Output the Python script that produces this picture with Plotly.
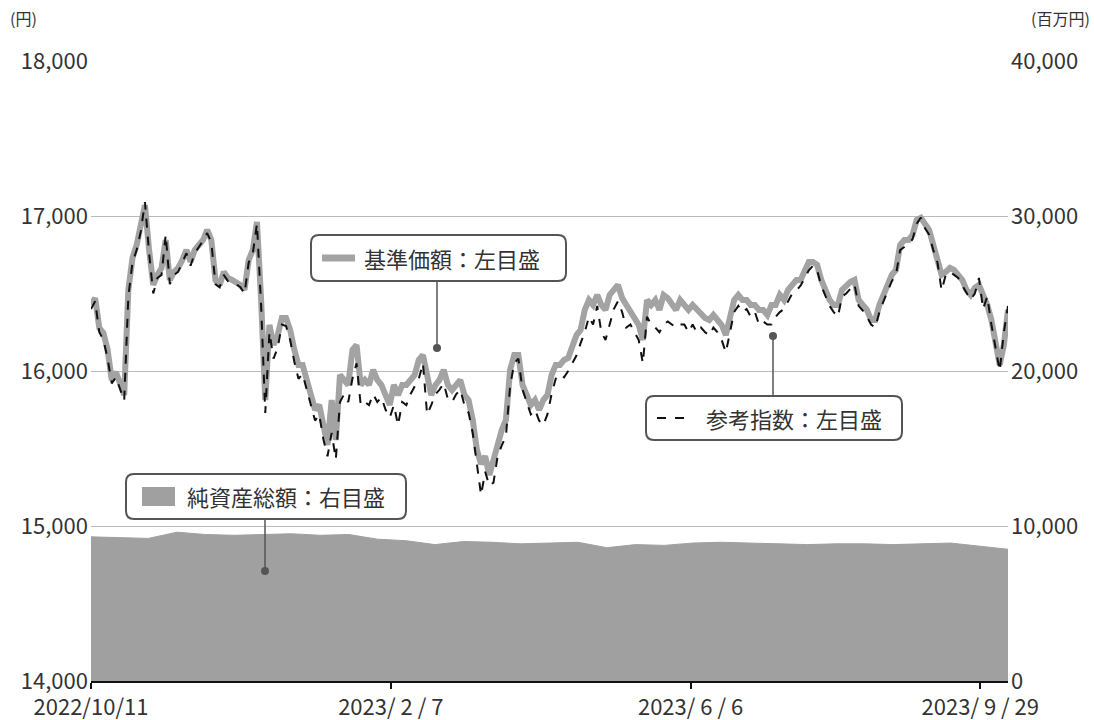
import pandas as pd
import plotly.graph_objects as go

nav = [16426, 16470, 16278, 16245, 16136, 15942, 15994, 15910, 15845, 16523, 16729, 16813, 16942, 17071, 16781,
       16555, 16620, 16665, 16845, 16587, 16639, 16665, 16716, 16781, 16704, 16781, 16813, 16845, 16910, 16845,
       16587, 16555, 16639, 16600, 16587, 16574, 16555, 16523, 16716, 16781, 16962, 16458, 15813, 16297, 16168,
       16232, 16342, 16342, 16265, 16136, 16039, 16039, 15942, 15845, 15749, 15781, 15652, 15523, 15813, 15555,
       15974, 15942, 15910, 16136, 16168, 15910, 15942, 15910, 16007, 15942, 15910, 15845, 15781, 15910, 15845,
       15910, 15910, 15942, 15974, 16071, 16103, 15974, 15845, 15910, 15942, 16007, 15910, 15877, 15910, 15942,
       15845, 15813, 15684, 15491, 15400, 15450, 15329, 15426, 15555, 15620, 15684, 16007, 16103, 16103, 15910,
       15845, 15781, 15813, 15749, 15813, 15845, 15974, 16039, 16039, 16071, 16084, 16168, 16232, 16265, 16394,
       16458, 16426, 16491, 16426, 16394, 16491, 16523, 16555, 16471, 16426, 16394, 16342, 16297, 16200, 16458,
       16426, 16458, 16394, 16491, 16471, 16426, 16394, 16458, 16426, 16394, 16426, 16394, 16361, 16342, 16329,
       16361, 16329, 16297, 16232, 16361, 16458, 16491, 16458, 16458, 16426, 16426, 16394, 16394, 16361, 16426,
       16426, 16491, 16458, 16523, 16555, 16587, 16587, 16652, 16704, 16704, 16685, 16587, 16523, 16458, 16426,
       16426, 16523, 16555, 16574, 16587, 16458, 16426, 16394, 16329, 16329, 16426, 16491, 16555, 16620, 16652,
       16813, 16845, 16845, 16878, 16975, 16988, 16942, 16910, 16813, 16729, 16620, 16639, 16665, 16652, 16620,
       16587, 16523, 16491, 16536, 16555, 16491, 16426, 16329, 16168, 16039, 16168, 16394]
idx = [16400, 16450, 16250, 16200, 16080, 15920, 15960, 15880, 15810, 16480, 16700, 16780, 16900, 17090, 16760,
       16500, 16600, 16620, 16880, 16560, 16620, 16640, 16700, 16760, 16680, 16760, 16800, 16840, 16890, 16830,
       16560, 16540, 16620, 16580, 16570, 16560, 16540, 16500, 16700, 16760, 16950, 16420, 15730, 16250, 16080,
       16150, 16300, 16290, 16200, 16060, 15950, 15980, 15880, 15780, 15680, 15720, 15560, 15450, 15600, 15430,
       15800, 15850, 15800, 15950, 16050, 15780, 15800, 15780, 15850, 15800, 15830, 15750, 15700, 15780, 15650,
       15800, 15780, 15850, 15900, 15950, 16050, 15720, 15780, 15850, 15880, 15920, 15820, 15800, 15850, 15880,
       15780, 15730, 15600, 15400, 15200, 15350, 15260, 15280, 15450, 15520, 15580, 15900, 16050, 16080, 15880,
       15800, 15720, 15750, 15680, 15650, 15720, 15850, 15950, 15980, 15960, 16000, 16050, 16100, 16180, 16250,
       16350, 16300, 16420, 16250, 16200, 16300, 16400, 16450, 16380, 16280, 16300, 16250, 16200, 16050, 16350,
       16300, 16280, 16250, 16300, 16320, 16300, 16280, 16300, 16300, 16250, 16300, 16250, 16280, 16250, 16230,
       16280, 16250, 16200, 16120, 16250, 16380, 16420, 16380, 16400, 16350, 16380, 16300, 16320, 16300, 16300,
       16350, 16380, 16400, 16450, 16500, 16520, 16550, 16600, 16650, 16680, 16650, 16550, 16480, 16420, 16380,
       16350, 16480, 16500, 16530, 16560, 16420, 16390, 16350, 16300, 16280, 16380, 16450, 16520, 16580, 16620,
       16780, 16800, 16820, 16850, 16950, 16990, 16920, 16880, 16780, 16700, 16520, 16620, 16640, 16620, 16600,
       16550, 16500, 16460, 16500, 16600, 16400, 16480, 16300, 16150, 16000, 16250, 16420]
assets = [9300, 9250, 9200, 9600, 9450, 9400, 9450, 9500, 9400, 9450, 9150, 9050, 8800, 9000, 8950, 8850,
          8900, 8950, 8600, 8800, 8750, 8900, 8950, 8900, 8850, 8800, 8850, 8850, 8800, 8850, 8900, 8700, 8500]

dates = pd.date_range("2022-10-11", "2023-10-10", periods=len(nav))
adates = pd.date_range("2022-10-11", "2023-10-10", periods=len(assets))
tickvals = ["2022-10-11", "2023-02-07", "2023-06-06", "2023-09-29"]
ticktext = ["2022/10/11", "2023/ 2 / 7", "2023/ 6 / 6", "2023/ 9 / 29"]

FONT = "Noto Sans CJK JP"
fig = go.Figure()
fig.add_trace(go.Scatter(x=adates, y=assets, yaxis="y2", fill="tozeroy", mode="lines",
                         line=dict(color="#a0a0a0", width=1), fillcolor="#a0a0a0"))
fig.add_trace(go.Scatter(x=dates, y=nav, mode="lines", line=dict(color="#a3a3a3", width=6)))
fig.add_trace(go.Scatter(x=dates, y=idx, mode="lines", line=dict(color="#111", width=2, dash="dash")))

def px(x):
    return (x - 91) / 917

def py(y):
    return (681 - y) / 620

def rbox(x0, y0, x1, y1, r=8):
    a, b, c, d = px(x0), py(y0), px(x1), py(y1)
    rx, ry = r / 917, r / 620
    return (f"M{a+rx},{b} L{c-rx},{b} Q{c},{b} {c},{b-ry} L{c},{d+ry} Q{c},{d} {c-rx},{d} "
            f"L{a+rx},{d} Q{a},{d} {a},{d+ry} L{a},{b-ry} Q{a},{b} {a+rx},{b} Z")

shapes = []
anns = []
boxes = [((311, 235, 566, 281), "基準価額：左目盛", 362, 258, (437, 281, 437, 348)),
         ((646, 396, 902, 440), "参考指数：左目盛", 704, 418, (773, 396, 773, 336)),
         ((126, 474, 406, 519), "純資産総額：右目盛", 185, 496, (265, 519, 265, 571))]
for (x0, y0, x1, y1), txt, tx, ty, (lx0, ly0, lx1, ly1) in boxes:
    shapes.append(dict(type="line", xref="paper", yref="paper", x0=px(lx0), y0=py(ly0),
                       x1=px(lx1), y1=py(ly1), line=dict(color="#555", width=1.5)))
    shapes.append(dict(type="circle", xref="paper", yref="paper", x0=px(lx1 - 4), x1=px(lx1 + 4),
                       y0=py(ly1 - 4), y1=py(ly1 + 4), fillcolor="#555", line=dict(width=0)))
    shapes.append(dict(type="path", xref="paper", yref="paper", path=rbox(x0, y0, x1, y1),
                       fillcolor="white", line=dict(color="#555", width=2)))
    anns.append(dict(xref="paper", yref="paper", x=px(tx), y=py(ty), text=txt, showarrow=False,
                     xanchor="left", yanchor="middle",
                     font=dict(size=22, color="#333", family=FONT)))
shapes.append(dict(type="line", xref="paper", yref="paper", x0=px(322), x1=px(355), y0=py(258), y1=py(258),
                   line=dict(color="#a3a3a3", width=7)))
shapes.append(dict(type="line", xref="paper", yref="paper", x0=px(657), x1=px(690), y0=py(418), y1=py(418),
                   line=dict(color="#111", width=2, dash="dash")))
shapes.append(dict(type="rect", xref="paper", yref="paper", x0=px(142), x1=px(175), y0=py(506), y1=py(487),
                   fillcolor="#a0a0a0", line=dict(width=0)))
anns.append(dict(xref="paper", yref="paper", x=px(8), y=py(18), text="(円)", showarrow=False,
                 xanchor="left", yanchor="middle", font=dict(size=16, color="#333", family=FONT)))
anns.append(dict(xref="paper", yref="paper", x=px(1092), y=py(18), text="(百万円)", showarrow=False,
                 xanchor="right", yanchor="middle", font=dict(size=16, color="#333", family=FONT)))

fig.update_layout(
    width=1094, height=720, margin=dict(l=91, r=86, t=61, b=39, autoexpand=False),
    paper_bgcolor="white", plot_bgcolor="white", showlegend=False,
    font=dict(family=FONT, size=22, color="#333"),
    xaxis=dict(range=["2022-10-11", "2023-10-10"], tickvals=tickvals, ticktext=ticktext,
               showgrid=False, showline=True, linecolor="#111", linewidth=2, automargin=False,
               ticks="outside", ticklen=6, tickwidth=2, tickcolor="#111", tickangle=0),
    yaxis=dict(range=[14000, 18000], dtick=1000, tickformat=",", showgrid=True, gridcolor="#bbb",
               zeroline=False, ticks="", automargin=False, ticklabelstandoff=2),
    yaxis2=dict(range=[0, 40000], dtick=10000, tickformat=",", overlaying="y", side="right",
                showgrid=False, zeroline=False, automargin=False, ticklabelstandoff=2),
    shapes=shapes, annotations=anns,
)
fig.write_html("out.html", config={"displayModeBar": False},
               post_script="document.body.style.margin='0';document.body.style.overflow='hidden';")
